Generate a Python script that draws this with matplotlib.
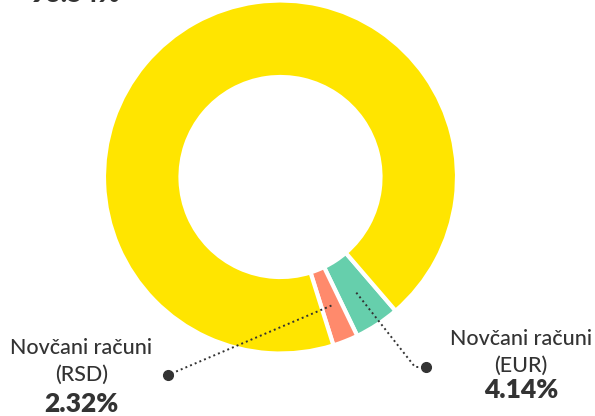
import numpy as np
import matplotlib
matplotlib.use("Agg")
import matplotlib.pyplot as plt

# Data
labels = ["Novčani računi\n(EUR)", "Novčani računi\n(RSD)", "Ostalo"]
values = [4.14, 2.32, 93.54]
value_labels = ["4.14%", "2.32%", "93.54%"]
colors = ["#66CFAC", "#FF8A6C", "#FFE500"]

W, H = 595, 416
fig = plt.figure(figsize=(W / 100, H / 100), dpi=100)
ax = fig.add_axes([0, 0, 1, 1])

cx, cy = 280.5, H - 177
R_out, R_in = 176.5, 100
start = -49.3

wedges, _ = ax.pie(values, colors=colors, startangle=start, counterclock=False,
                   radius=R_out, center=(cx, cy), frame=True,
                   wedgeprops=dict(width=R_out - R_in, edgecolor="white", linewidth=3))
ax.set_xlim(0, W)
ax.set_ylim(0, H)
ax.set_aspect("equal")
ax.axis("off")

txt = "#333333"
font = "Lato"
r_mid = (R_out + R_in) / 2

def anchor(w):
    a = np.deg2rad((w.theta1 + w.theta2) / 2)
    return cx + r_mid * np.cos(a), cy + r_mid * np.sin(a)

# EUR leader (right)
ax0, ay0 = anchor(wedges[0])
ex, ey = 426, H - 367
ax.plot([ax0, 415, ex], [ay0, ey, ey], linestyle=(0, (1, 1.6)), color=txt, lw=1.4)
ax.plot([ex], [ey], "o", color=txt, ms=7)

# RSD leader (left)
bx0, by0 = anchor(wedges[1])
dx, dy = 168, H - 375
ax.plot([bx0, dx], [by0, dy], linestyle=(0, (1, 1.6)), color=txt, lw=1.4)
ax.plot([dx], [dy], "o", color=txt, ms=7)

lab_fs = 15.5
val_fs = 19
lw_ = "medium"

# Right label
ax.text(520.5, H - 339, "Novčani računi", ha="center", va="center", fontsize=lab_fs, color=txt, family=font, fontweight=lw_)
ax.text(520.5, H - 366, "(EUR)", ha="center", va="center", fontsize=lab_fs, color=txt, family=font, fontweight=lw_)
ax.text(521, H - 390, value_labels[0], ha="center", va="center", fontsize=val_fs, color=txt, family=font, fontweight="heavy")

# Left label
ax.text(81.5, H - 348, "Novčani računi", ha="center", va="center", fontsize=lab_fs, color=txt, family=font, fontweight=lw_)
ax.text(81.5, H - 375, "(RSD)", ha="center", va="center", fontsize=lab_fs, color=txt, family=font, fontweight=lw_)
ax.text(81.5, H - 404, value_labels[1], ha="center", va="center", fontsize=val_fs, color=txt, family=font, fontweight="heavy")

# Top-left cut-off value
ax.text(75, H - 2, value_labels[2], ha="center", va="baseline", fontsize=val_fs, color=txt, family=font, fontweight="heavy")

fig.savefig("out.png", dpi=100)
